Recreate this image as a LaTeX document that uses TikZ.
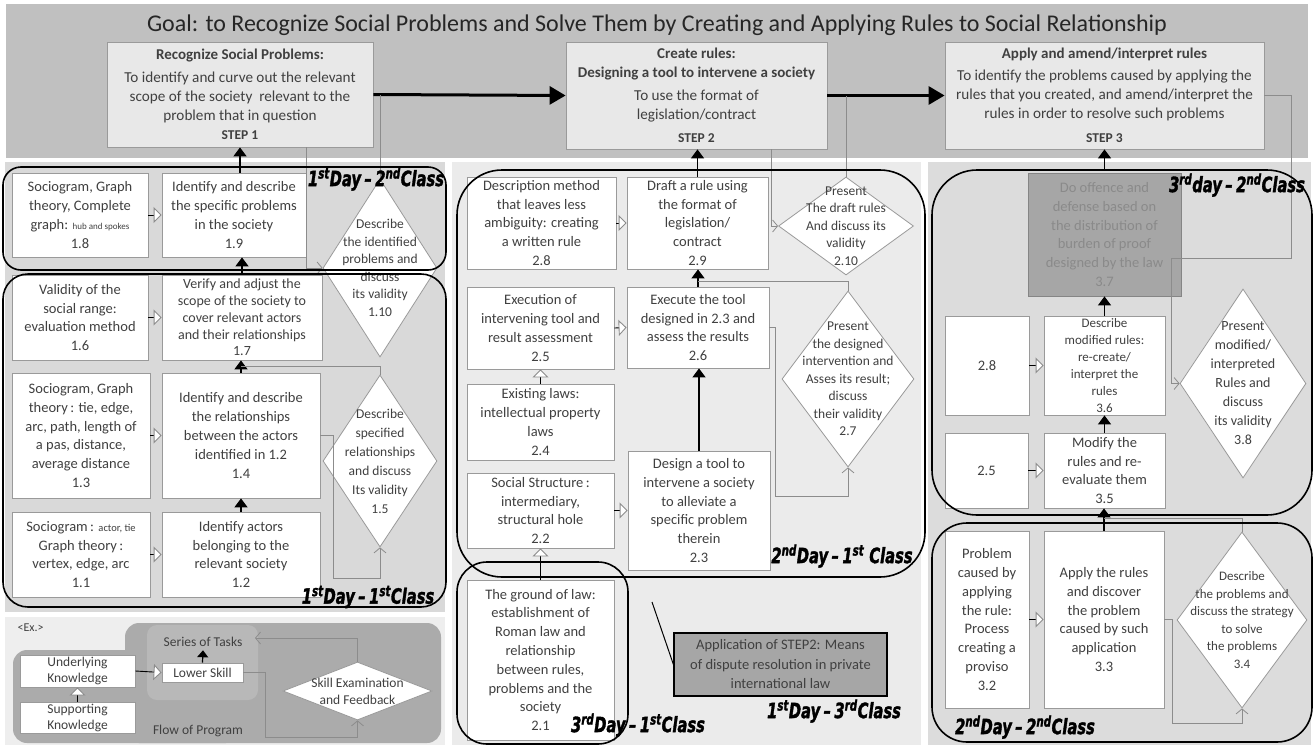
\documentclass[tikz,border=0pt]{standalone}
\usepackage{fontspec}
\setmainfont{Carlito}
\newfontfamily\dayfont[FakeStretch=0.7,FakeBold=1.6]{DejaVu Sans}
\usetikzlibrary{arrows.meta,shapes.geometric,calc}
\definecolor{banner}{HTML}{C0C0C0}
\definecolor{stepfill}{HTML}{E8E8E8}
\definecolor{panelL}{HTML}{D9D9D9}
\definecolor{panelM}{HTML}{EBEBEB}
\definecolor{panelR}{HTML}{DCDCDC}
\definecolor{bordergray}{HTML}{9A9A9A}
\definecolor{txt}{HTML}{404040}
\definecolor{exbg}{HTML}{EEEEEE}
\definecolor{exdark}{HTML}{ABABAB}
\definecolor{exlight}{HTML}{B8B8B8}
\definecolor{appfill}{HTML}{A6A6A6}
\definecolor{fbgray}{HTML}{8C8C8C}
\definecolor{faded}{HTML}{8A8A8A}
\tikzset{
  box/.style 2 args={draw=bordergray, line width=0.8pt, fill=white, inner sep=1pt, align=center, text=txt,
    font=\fontsize{14.5}{18.8}\selectfont, minimum width=#1pt, minimum height=#2pt},
  stepbox/.style 2 args={draw=bordergray, line width=0.8pt, fill=stepfill, inner sep=1pt, align=center, text=txt,
    font=\fontsize{15.2}{19}\selectfont, minimum width=#1pt, minimum height=#2pt},
  dmd/.style 2 args={shape=diamond, draw=bordergray, line width=0.8pt, fill=white, inner sep=0pt,
    minimum width=#1pt, minimum height=#2pt},
  dtext/.style={align=center, text=txt, inner sep=0pt, font=\fontsize{13.5}{17.5}\selectfont},
  blk/.style={line width=1.4pt, -{Triangle[width=13pt,length=9pt]}},
  bigarr/.style={line width=3pt, -{Triangle[width=18pt,length=16pt]}},
  oarr/.style={line width=0.9pt, -{Triangle[width=16pt,length=8pt,color=fbgray,fill=white]}},
  fb/.style={draw=fbgray, line width=0.8pt},
  fbarr/.style={fb, -{Straight Barb[length=5pt,width=12pt]}},
  regionbox/.style={draw=black, line width=1.6pt, rounded corners=#1},
  daylab/.style={inner sep=0pt, font=\dayfont\bfseries\itshape\fontsize{21}{21}\selectfont}
}
\begin{document}
\begin{tikzpicture}[x=1pt,y=-1pt]
\useasboundingbox[fill=white] (0,0) rectangle (1314,747);
% ---------- backgrounds
\fill[banner] (6,4) rectangle (1308,158);
\fill[panelL] (5,162) rectangle (445,612);
\fill[panelM] (452,162) rectangle (921,745);
\fill[panelR] (928,162) rectangle (1311,745);
\fill[exbg] (5,617) rectangle (445,745);
\fill[exdark, rounded corners=14pt] (125,623) rectangle (441,743);
\fill[exdark, rounded corners=14pt] (13,650) rectangle (240,743);
\fill[exlight, rounded corners=10pt] (147,625) rectangle (258,700);

% ---------- title and steps
\node[text=black!85, font=\fontsize{24}{28}\selectfont] (title) at (657,25)
  {Goal: to Recognize Social Problems and Solve Them by Creating and Applying Rules to Social Relationship};
\node[stepbox={266}{105}] (s1) at (240,94.5)
  {{\fontsize{15}{18}\selectfont\bfseries Recognize Social Problems:}\\[4pt]
   To identify and curve out the relevant\\ scope of the society~ relevant to the\\ problem that in question\\
   {\fontsize{13.5}{16}\selectfont\bfseries STEP 1}};
\node[stepbox={261}{107}] (s2) at (696.5,95.5)
  {{\fontsize{15}{18}\selectfont\bfseries Create rules:}\\
   {\fontsize{15}{18}\selectfont\bfseries Designing a tool to intervene a society}\\[4pt]
   To use the format of\\ legislation/contract\\[4pt]
   {\fontsize{13.5}{16}\selectfont\bfseries STEP 2}};
\node[stepbox={319}{107}] (s3) at (1104.5,95.5)
  {{\fontsize{15}{18}\selectfont\bfseries Apply and amend/interpret rules}\\[3pt]
   To identify the problems caused by applying the\\ rules that you created, and amend/interpret the\\
   rules in order to resolve such problems\\[5pt]
   {\fontsize{13.5}{16}\selectfont\bfseries STEP 3}};
\draw[bigarr] (s1.east) -- (s2.west);
\draw[bigarr] (s2.east) -- (s3.west);

% ---------- left column
\node[box={136}{84}] (b18) at (80,215)
  {Sociogram, Graph\\ theory, Complete\\ graph: {\fontsize{9}{10}\selectfont hub and spokes}\\ 1.8};
\node[box={144}{84}] (b19) at (234,215)
  {Identify and describe\\ the specific problems\\ in the society\\ 1.9};
\node[box={136}{85}] (b16) at (80,317.5)
  {Validity of the\\ social range:\\ evaluation method\\ 1.6};
\node[box={160}{85}, font=\fontsize{14}{16.8}\selectfont] (b17) at (242,317.5)
  {Verify and adjust the\\ scope of the society to\\ cover relevant actors\\ and their relationships\\ 1.7};
\node[box={138}{125}] (b13) at (81,435.5)
  {Sociogram, Graph\\ theory\,: tie, edge,\\ arc, path, length of\\ a pas, distance,\\ average distance\\ 1.3};
\node[box={158}{125}] (b14) at (241,435.5)
  {Identify and describe\\ the relationships\\ between the actors\\ identified in 1.2\\ 1.4};
\node[box={138}{85}] (b11) at (81,554.5)
  {Sociogram\,: {\fontsize{10.5}{12}\selectfont actor, tie}\\ Graph theory\,:\\ vertex, edge, arc\\ 1.1};
\node[box={158}{85}] (b12) at (241,554.5)
  {Identify actors\\ belonging to the\\ relevant society\\ 1.2};
\node[dmd={114}{178}] (d110) at (380,268) {};
\node[dtext] (d110t) at (d110.center) {Describe\\ the identified\\ problems and\\ discuss\\ its validity\\ 1.10};
\node[dmd={114}{172}] (d15) at (380,461) {};
\node[dtext, font=\fontsize{13.5}{19}\selectfont] (d15t) at (d15.center)
  {Describe\\ specified\\ relationships\\ and discuss\\ Its validity\\ 1.5};

\draw[oarr] (b18.east) -- (b19.west);
\draw[oarr] (b16.east) -- (b17.west);
\draw[oarr] (b13.east) -- (b14.west);
\draw[oarr] (b11.east) -- (b12.west);
\draw[blk] (b12.north) -- (b14.south);
\draw[blk] (b14.north) -- (b14.north |- b17.south);
\draw[blk] (b17.north) -- (b17.north |- b19.south);
\draw[blk] (s1.south |- b19.north) -- (s1.south);
\draw[fb] (d110.north) -- (d110.north |- s1.east);
\draw[fbarr] (s1.south -| b19.east) |- (d110.west);
\draw[fbarr] (b14.east) -- ++(13,0) |- ($(d15.south)+(0,31)$) -- (d15.south);
\draw[fb] (d15.north) -- ++(0,-8) -- ($(b14.north)+(0,-6)$);

% ---------- example
\node[box={115}{32}, font=\fontsize{13.5}{16}\selectfont] (exU) at (77.5,671) {Underlying\\ Knowledge};
\node[box={115}{31}, font=\fontsize{13.5}{16}\selectfont] (exS) at (77.5,717.5) {Supporting\\ Knowledge};
\node[box={81}{19}, font=\fontsize{13.5}{16}\selectfont] (exL) at (202.5,672.5) {Lower Skill};
\node[text=txt, font=\fontsize{13.5}{16}\selectfont] (exSer) at (203,642) {Series of Tasks};
\node[text=txt, font=\fontsize{13.5}{16}\selectfont] (exF) at (198,731) {Flow of Program};
\node[text=txt, anchor=west, font=\fontsize{12}{14}\selectfont] (exE) at (14,628) {<Ex.>};
\node[dmd={149}{58}] (exD) at (357.5,691) {};
\node[dtext, font=\fontsize{13.5}{17}\selectfont] (exDt) at (exD.center) {Skill Examination\\ and Feedback};
\coordinate (exin) at (255,638);
\draw[oarr] (exS.north) -- (exU.south);
\draw[oarr] (exU.east) -- (exL.west);
\draw[line width=1.2pt, -{Triangle[width=11pt,length=7pt]}] (exL.north) -- (exSer.south);
\draw[fbarr] (exL.east) -- ++(22,0) |- ($(exD.south)+(0,17)$) -- (exD.south);
\draw[fbarr] (exD.north) |- (exin);

% ---------- middle column
\node[box={149}{92}] (b28) at (541.5,223)
  {Description method\\ that leaves less\\ ambiguity: creating\\ a written rule\\ 2.8};
\node[box={141}{92}] (b29) at (697.5,223)
  {Draft a rule using\\ the format of\\ legislation/\\ contract\\ 2.9};
\node[box={147}{82}] (b25) at (540.5,328)
  {Execution of\\ intervening tool and\\ result assessment\\ 2.5};
\node[box={142}{81}] (b26) at (698,327.5)
  {Execute the tool\\ designed in 2.3 and\\ assess the results\\ 2.6};
\node[box={147}{76}] (b24) at (540.5,422)
  {Existing laws:\\ intellectual property\\ laws\\ 2.4};
\node[box={147}{75}] (b22) at (540.5,510.5)
  {Social Structure\,:\\ intermediary,\\ structural hole\\ 2.2};
\node[box={142}{119}] (b23) at (699,510.5)
  {Design a tool to\\ intervene a society\\ to alleviate a\\ specific problem\\ therein\\ 2.3};
\node[box={147}{160}] (b21) at (540.5,660)
  {The ground of law:\\ establishment of\\ Roman law and\\ relationship\\ between rules,\\ problems and the\\ society\\ 2.1};
\node[box={213}{63}, fill=appfill, draw=black, line width=1.2pt, font=\fontsize{14.5}{19.5}\selectfont] (app) at (780.5,664.5)
  {Application of STEP2: Means\\ of dispute resolution in private\\ international law};
\node[dmd={135}{98}] (d210) at (846,226) {};
\node[dtext] (d210t) at (d210.center) {Present\\ The draft rules\\ And discuss its\\ validity\\ 2.10};
\node[dmd={132}{176}] (d27) at (848,379) {};
\node[dtext] (d27t) at (d27.center) {Present\\ the designed\\ intervention and\\ Asses its result;\\ discuss\\ their validity\\ 2.7};
\coordinate (cl) at (652,602);
\draw[line width=1pt] (cl) -- (app.west);

\draw[oarr] (b28.east) -- (b29.west);
\draw[oarr] (b25.east) -- (b26.west);
\draw[oarr] (b22.east) -- (b23.west);
\draw[oarr] (b24.north) -- (b25.south);
\draw[oarr] (b21.north) -- (b22.south);
\draw[blk] (b23.north) -- (b23.north |- b26.south);
\draw[blk] (b26.north) -- (b26.north |- b29.south);
\draw[blk] (b29.north) -- (b29.north |- s2.south);
\draw[fbarr] ($(s2.south -| b29.east)+(3,0)$) |- (d210.west);
\draw[fb] (d210.north) -- (d210.north |- s2.east);
\draw[fbarr] (b26.east) -- ++(6,0) |- ($(d27.south)+(0,29)$) -- (d27.south);
\draw[fb] (d27.north) -- ++(0,-9) -- ($(b26.north)+(0,-5)$);

% ---------- right column
\node[box={153}{123}, fill=appfill, draw=appfill!80!black, text=faded] (b37) at (1104.5,234.5)
  {Do offence and\\ defense based on\\ the distribution of\\ burden of proof\\ designed by the law\\ 3.7};
\node[box={84}{99}] (rb28) at (987,365.5) {2.8};
\node[box={121}{99}, font=\fontsize{13}{17}\selectfont] (b36) at (1104.5,365.5)
  {Describe\\ modified rules:\\ re-create/\\ interpret the\\ rules\\ 3.6};
\node[box={83}{75}] (rb25) at (986.5,470.5) {2.5};
\node[box={121}{75}] (b35) at (1104.5,470.5)
  {Modify the\\ rules and re-\\ evaluate them\\ 3.5};
\node[box={84}{177}] (b32) at (987,619.5)
  {Problem\\ caused by\\ applying\\ the rule:\\ Process\\ creating a\\ proviso\\ 3.2};
\node[box={120}{177}] (b33) at (1104,619.5)
  {Apply the rules\\ and discover\\ the problem\\ caused by such\\ application\\ 3.3};
\node[dmd={126}{189}] (d38) at (1243,383.5) {};
\node[dtext, font=\fontsize{14}{19}\selectfont] (d38t) at (d38.center)
  {Present\\ modified/\\ interpreted\\ Rules and\\ discuss\\ its validity\\ 3.8};
\node[dmd={130}{176}] (d34) at (1242,620) {};
\node[dtext, font=\fontsize{13}{17.5}\selectfont] (d34t) at (d34.center)
  {Describe\\ the problems and\\ discuss the strategy\\ to solve\\ the problems\\ 3.4};
\coordinate (k1) at (1291,258);
\coordinate (k2) at (1171,258);
\draw[fbarr] (s3.east) -| (k1) -- (k2) |- (d38.west);

\draw[oarr] (rb28.east) -- (b36.west);
\draw[oarr] (rb25.east) -- (b35.west);
\draw[oarr] (b32.east) -- (b33.west);
\draw[blk] (b33.north) -- (b33.north |- b35.south);
\draw[blk] (b35.north) -- (b35.north |- b36.south);
\draw[blk] (b36.north) -- (b36.north |- b37.south);
\draw[blk] (s3.south |- 0,170) -- (s3.south);
\draw[fbarr] (b33.east) -- ++(8,0) |- ($(d34.south)+(0,15)$) -- (d34.south);
\draw[fb] (d34.north) -- ++(0,-13) -- ($(b33.north)+(0,-12)$);

% ---------- class regions
\draw[regionbox=18pt] (3,167) rectangle (446,270);
\draw[regionbox=25pt] (3,274) rectangle (446,607);
\draw[regionbox=45pt] (457,170) rectangle (925,577);
\draw[regionbox=30pt] (457,562) rectangle (628,744);
\draw[regionbox=45pt] (932,170) rectangle (1312,515);
\draw[regionbox=35pt] (932,523) rectangle (1312,742);

% ---------- day labels
\node[daylab] (l12) at (376,179) {1\textsuperscript{st}Day\,–\,2\textsuperscript{nd}Class};
\node[daylab] (l11) at (368,597) {1\textsuperscript{st}Day\,–\,1\textsuperscript{st}Class};
\node[daylab] (l21) at (842,556) {2\textsuperscript{nd}Day\,–\,1\textsuperscript{st} Class};
\node[daylab] (l31) at (638,725) {3\textsuperscript{rd}Day\,–\,1\textsuperscript{st}Class};
\node[daylab] (l13) at (834,711) {1\textsuperscript{st}Day\,–\,3\textsuperscript{rd}Class};
\node[daylab] (l32) at (1237,185) {3\textsuperscript{rd}day\,–\,2\textsuperscript{nd}Class};
\node[daylab] (l22) at (1025,727) {2\textsuperscript{nd}Day\,–\,2\textsuperscript{nd}Class};
\end{tikzpicture}
\end{document}
